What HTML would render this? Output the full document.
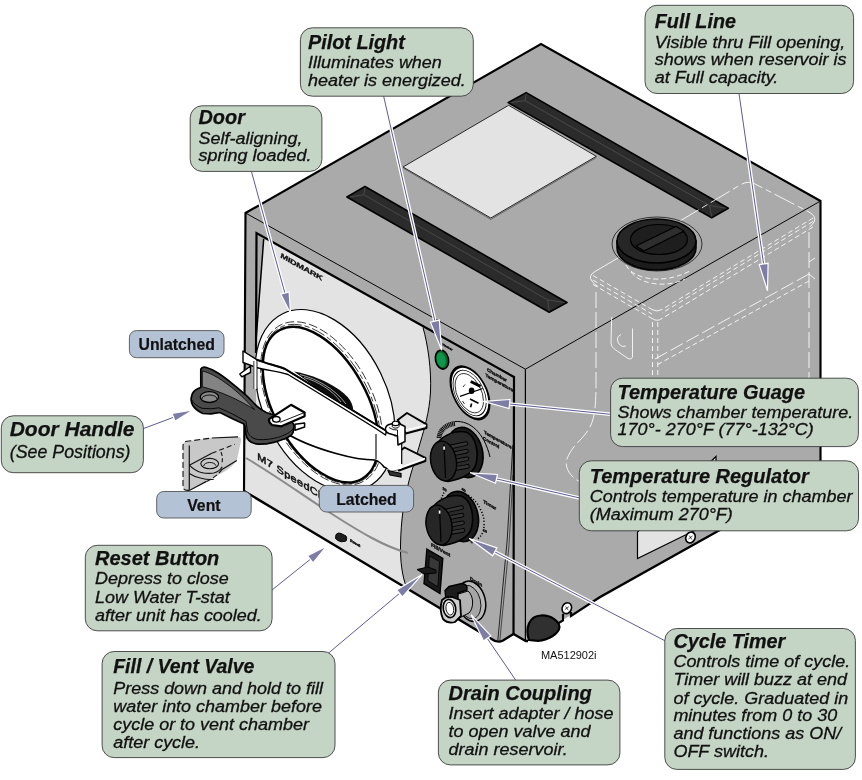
<!DOCTYPE html>
<html lang="en"><head><meta charset="utf-8"><title>M7 SpeedClave Controls</title>
<style>
html,body{margin:0;padding:0;background:#fff;}
body{width:862px;height:780px;overflow:hidden;}
svg{display:block;font-family:"Liberation Sans",Arial,Helvetica,sans-serif;will-change:transform;}
.t{font-weight:bold;font-style:italic;fill:#111;stroke:#111;stroke-width:0.25px;}
.b{font-style:italic;fill:#111;stroke:#111;stroke-width:0.3px;}
.bl{font-weight:bold;fill:#111;stroke:#111;stroke-width:0.2px;}
</style></head>
<body>
<svg width="862" height="780" viewBox="0 0 862 780">
<rect width="862" height="780" fill="#fff"/>
<polygon points="525.4,369.2 820.5,201.0 820.5,474.0 525.4,641.0" fill="#aaaaaa"/>
<polygon points="245.5,213.0 541.0,44.0 820.5,201.0 525.4,369.2" fill="#aaaaaa"/>
<path d="M245.5,213 L525.4,369.2 L525.7,641 L513.5,634 L503,640.5 Q497.8,643.5 491,638.7 L244,491 Z" fill="#aaaaaa"/>
<path d="M263.5,238.5 L423,327.5 C428,345 431.5,370 430.5,392 C429.5,412 424,430 420.7,441 C416,458 411,472 408,485 C404,500 401,520 400.5,545 C400.3,562 402,575 406.5,587.6 L245,491.6 L245,440 L256,436 L256,350 Z" fill="#e3e3e3"/>
<polygon points="256.5,233 263.7,238.9 255.6,346 255,350" fill="#aaaaaa"/>
<path d="M263.7,238.9 L255.6,346" stroke="#000" stroke-width="1.5" fill="none"/>
<path d="M423,327.5 C428,345 431.5,370 430.5,392 C429.5,412 424,430 420.7,441 C416,458 411,472 408,485 C404,500 401,520 400.5,545 C400.3,562 402,575 406.5,587.6" stroke="#000" stroke-width="1" fill="none"/>
<path d="M246,458 C280,478 305,497 332,514 C360,532 385,547 408,553" stroke="#8a8a8a" stroke-width="2" fill="none"/>
<path d="M256,353 L256.5,233 L514,377 L513.5,634" stroke="#000" stroke-width="2.2" fill="none" stroke-linejoin="miter"/>
<path d="M512.8,445 L507.2,540 L497.8,640.5" stroke="#000" stroke-width="0.8" fill="none"/>
<path d="M513,475 L509,545 L499.8,641" stroke="#000" stroke-width="0.6" fill="none"/>
<polygon points="403,167 508.6,105.3 596.3,156.3 490.8,218" fill="#e3e3e3" stroke="#000" stroke-width="0.8"/>
<path d="M403.5,168.3 L490.8,219.4 L596.3,157.6" stroke="#555" stroke-width="0.8" fill="none"/>
<polygon points="508.1,102.6 526.2,92.6 728.3,208.2 711.7,217.8" fill="#2b2b2b" stroke="#000" stroke-width="1.6" stroke-linejoin="round"/>
<path d="M511.1,102.6 L525.0,100.6 L709.6,205.6 L726.3,208.2 M709.6,205.6 L711.7,216.8 M525.0,100.6 L526.2,93.6" stroke="#555" stroke-width="0.7" fill="none"/>
<polygon points="346.9,197.0 365.0,186.5 567.0,302.5 549.2,312.2" fill="#2b2b2b" stroke="#000" stroke-width="1.6" stroke-linejoin="round"/>
<path d="M349.9,197.0 L363.8,194.7 L547.7,299.9 L565.0,302.5 M547.7,299.9 L549.2,311.2 M363.8,194.7 L365.0,187.5" stroke="#555" stroke-width="0.7" fill="none"/>
<path d="M245.5,213 L525.4,369.2 L820.5,201" stroke="#000" stroke-width="1" fill="none"/>
<path d="M525.4,369.2 L525.4,641" stroke="#000" stroke-width="1.2" fill="none"/>
<path d="M244,491 L245.5,213 L541,44 L820.5,201 L820.5,474" stroke="#000" stroke-width="2.15" fill="none" stroke-linejoin="miter"/>
<path d="M244,491 L491,638.7 Q497.8,643.5 503,640.5 L513.5,634 L525.7,641 L528,641" stroke="#000" stroke-width="2.4" fill="none" stroke-linejoin="round"/>
<path d="M557,624 L563,620.5 L563,614 M571,612 L571,616 L600,597 L718.5,530.8 L820.5,474" stroke="#000" stroke-width="2.15" fill="none" stroke-linejoin="miter"/>
<polygon points="637.5,532 716,456.5 716,520 637.5,558.5" fill="#e3e3e3" stroke="#000" stroke-width="1.2"/>
<path d="M529,640 C525,628 529,616 541,615.5 C551,615 559,621 559.5,627 C559,634 548,640 538,640.8 Z" fill="#303030" stroke="#000" stroke-width="2.2"/>
<ellipse cx="566.8" cy="608.2" rx="4.6" ry="5.6" transform="rotate(25 566.8 608.2)" fill="#fff" stroke="#000" stroke-width="1.6"/><path d="M564.8,609.7 L568.8,606.7 M565.5999999999999,606.4000000000001 L568.1999999999999,610.2" stroke="#000" stroke-width="0.7"/>
<ellipse cx="690.5" cy="537.5" rx="4.6" ry="5.6" transform="rotate(25 690.5 537.5)" fill="#fff" stroke="#000" stroke-width="1.6"/><path d="M688.5,539.0 L692.5,536.0 M689.3,535.7 L691.9,539.5" stroke="#000" stroke-width="0.7"/>
<path d="M618,258 L741,184.5 Q748,180.5 755,184 L809,212 Q817,216.5 814,222 Q812,226 806,229.5" stroke="#fff" fill="none" stroke-width="0.85" stroke-dasharray="22 4 6 4"/><path d="M618,258 L595,271.5 Q587.5,276 592,281 Q594,284.5 598,286.5" stroke="#fff" fill="none" stroke-width="0.85"/><path d="M813,218 L662,309.5" stroke="#fff" fill="none" stroke-width="0.85" stroke-dasharray="5 3"/><path d="M813,221.5 L662,313.0" stroke="#fff" fill="none" stroke-width="0.85" stroke-dasharray="5 3"/><path d="M813,227 L662,318.5" stroke="#fff" fill="none" stroke-width="0.85" stroke-dasharray="5 3"/><path d="M593,275.5 L652,309.5" stroke="#fff" fill="none" stroke-width="0.85" stroke-dasharray="5 3"/><path d="M593,280.0 L652,314.0" stroke="#fff" fill="none" stroke-width="0.85" stroke-dasharray="5 3"/><path d="M593,284.5 L652,318.5" stroke="#fff" fill="none" stroke-width="0.85" stroke-dasharray="5 3"/><path d="M652,309.5 Q657,312.5 662,309.5 M652,318.5 Q657,322 662,318.5" stroke="#fff" fill="none" stroke-width="0.85"/><path d="M596,292 L596,380 C596,398 595.5,408 593.6,417 C590,434 577,441 571.4,450.5 C568,456 565.5,460 566.5,466 C568,473 573,478 580,482" stroke="#fff" fill="none" stroke-width="0.85" stroke-dasharray="16 4"/><path d="M652.5,322 L652.5,420 M657.8,322 L657.8,420" stroke="#fff" fill="none" stroke-width="0.85" stroke-dasharray="5 3"/><path d="M809,232 L809,378" stroke="#fff" fill="none" stroke-width="0.85" stroke-dasharray="16 4"/><path d="M809,274 L655,359" stroke="#fff" fill="none" stroke-width="0.85" stroke-dasharray="14 4"/><path d="M809,281 L655,366" stroke="#fff" fill="none" stroke-width="0.85" stroke-dasharray="5 3"/><path d="M809,262 L815,258 M809,274 L815,279" stroke="#fff" fill="none" stroke-width="0.85"/><path d="M611.7,317 L611,343 Q611,347 615,349.5 L628,358.5 Q632.5,360 632.5,356 L632.5,328.5" stroke="#fff" fill="none" stroke-width="0.85"/><path d="M621,334.5 Q615,337.5 619,344 Q622,348 626,346" stroke="#fff" fill="none" stroke-width="0.85"/><path d="M626,265 C632,278 660,286 690,271" stroke="#fff" fill="none" stroke-width="0.85" stroke-dasharray="5 3"/><path d="M631,272 C640,285 668,288 685,279" stroke="#fff" fill="none" stroke-width="0.85" stroke-dasharray="5 3"/>
<ellipse cx="657" cy="244" rx="45" ry="27" fill="none" stroke="#000" stroke-width="0.7"/>
<path d="M617,241 L617,248 A39.5,22 0 0 0 696,248 L696,241 Z" fill="#1c1c1c" stroke="#000" stroke-width="1.6"/>
<ellipse cx="656.5" cy="241" rx="39.5" ry="22" fill="#262626" stroke="#000" stroke-width="1.6"/>
<ellipse cx="659" cy="239.5" rx="28.5" ry="15" fill="#1e1e1e" stroke="#000" stroke-width="1.2"/>
<path d="M636,246 L676,226.5 L684,231 L644,251 Z" fill="#2e2e2e" stroke="#000" stroke-width="1.2"/>
<ellipse cx="0" cy="0" rx="96.5" ry="61.9" transform="translate(325,400.4) rotate(64)" fill="#fff" stroke="#000" stroke-width="1.2"/>
<ellipse cx="0" cy="0" rx="88.5" ry="50.6" transform="translate(321.6,403.4) rotate(62)" fill="none" stroke="#000" stroke-width="0.7" stroke-dasharray="9 3"/>
<ellipse cx="0" cy="0" rx="86.8" ry="48.4" transform="translate(321.1,404) rotate(61.5)" fill="none" stroke="#000" stroke-width="0.7" stroke-dasharray="14 3 5 3"/>
<ellipse cx="0" cy="0" rx="85" ry="46.4" transform="translate(320.6,404.6) rotate(61)" fill="#fff" stroke="#000" stroke-width="2.4"/>
<path d="M268,364 C276,366 281,367.5 285,369 L320,390.3 L375,424 L386.5,431 L401.7,441 L401.7,468.5 L397,469.5 Q390,470 384,467 Q381,462 375,460 C362,460 350,457.5 337,453.8 C320,449 300,442 286,433 L276,410 Z" fill="#fff"/>
<path d="M286,433 C300,442 320,449 337,453.8 C350,457.5 362,460 375,460 Q381,462 384,467 Q390,470 397,469.5 L421,458" stroke="#000" stroke-width="1.7" fill="none"/>
<path d="M376,434 L376,459" stroke="#000" stroke-width="1.1"/>
<path d="M243,351 L256.7,359.6 C266,363.5 276,365.5 285,369 L320,390.3 L375,424 L386.5,431 L385.5,435 L375,428 L320,394 L288,374.5 C278,371 266,370.5 256.7,367.5 L243,362.5 Z" fill="#fff" stroke="#000" stroke-width="1.4" stroke-linejoin="round"/>
<path d="M256.7,359.6 C266,363.5 276,365.5 285,369 L320,390.3 L375,424 L386.5,431" stroke="#000" stroke-width="2" fill="none"/>
<rect x="253.8" y="362" width="3.2" height="27" fill="#fff"/><path d="M253.8,361 L253.8,389" stroke="#555" stroke-width="1.2"/><path d="M257,360 L257,390" stroke="#000" stroke-width="0.9"/>
<path d="M294,371.5 C308,374 318,378 327,382.5 C336,387 343,392 347.6,397 C351,401 353,405 353.2,410 L345,405.5 L320,390.3 Z" fill="#0c0c0c"/>
<path d="M300,374.6 C316,378.5 334,388 346,404 M304,377.5 C318,381.5 332,390 341,402" stroke="#fff" stroke-width="0.6" fill="none"/>
<path d="M250.5,366 L239.8,374 L241.8,376.8 L250.5,372.5 Z" fill="#fff" stroke="#000" stroke-width="1.4" stroke-linejoin="round"/>
<path d="M397.7,420 L407,413 L426.5,424.4 L426.5,428 L405.8,433.5 Z" fill="#e3e3e3" stroke="#000" stroke-width="1.9" stroke-linejoin="round"/>
<path d="M404,430.5 L426,425.2" stroke="#fff" stroke-width="1.6"/>
<path d="M398.8,452 L404.6,447.5 L425.4,457.9 L425.4,461 L398.8,470.5 Z" fill="#e3e3e3" stroke="#000" stroke-width="1.9" stroke-linejoin="round"/>
<path d="M400,467.5 L425,458.6" stroke="#fff" stroke-width="1.6"/>
<path d="M377,434 L377,459 Q382,464 389.6,470 Q396,471 401.7,468.5 L401.7,441 Z" fill="#fff" stroke="none"/>
<path d="M401.7,441 L401.7,464" stroke="#000" stroke-width="1.2"/>
<path d="M385.5,430 Q385,426 389,424.5 L397,422.5 L405,426.5 L405,441.5 L398,445 L397.5,436 L389,433.5 Q386,432.5 385.5,430 Z" fill="#fff" stroke="#000" stroke-width="1.5" stroke-linejoin="round"/>
<path d="M389,427.5 Q393,430.5 397.5,430 L397.5,436" stroke="#000" stroke-width="0.9" fill="none"/>
<path d="M392.3,423.5 L392.3,426.5 A3.4,2 0 0 0 399,426.5 L399,423.5" fill="#fff" stroke="#000" stroke-width="1"/>
<ellipse cx="395.6" cy="423.4" rx="3.4" ry="2.2" fill="#fff" stroke="#000" stroke-width="1.1"/>
<path d="M388,470.5 L401,473.5 L401,477 L390,475 Z" fill="#333" stroke="#000" stroke-width="1.2"/>
<path d="M183,446 Q183,442 187,441.3 L211.8,438 L238,436.8 Q241.5,437 241,441 L236.8,460.5 C233,466 226,471 220,474 L206.5,481.4 L189.8,490.2 Q183.5,491 183,486 Z" fill="#c8c8c8" stroke="none"/>
<path d="M183,486 L183,446 Q183,442 187,441.3 L211.8,438" fill="none" stroke="#111" stroke-width="1.1" stroke-dasharray="6 3"/>
<path d="M211.8,438 L238,436.8" fill="none" stroke="#111" stroke-width="1.2"/>
<path d="M236.8,460.5 L222,469.4 M206.5,481.4 L189.8,490.2 Q185,491 183.6,488.7" fill="none" stroke="#111" stroke-width="1.2"/>
<path d="M222,469.4 C219,474 213,478.5 206.5,481.4" fill="none" stroke="#111" stroke-width="1.1" stroke-dasharray="5 2.5"/>
<path d="M189.3,445.4 L189.3,489.7 M189.3,465.2 L211.8,453.2" stroke="#111" stroke-width="1.2" fill="none"/>
<path d="M211.8,453.2 L234.7,444.3" stroke="#111" stroke-width="1.1" fill="none" stroke-dasharray="5 3"/>
<path d="M221,452 Q223.5,458 221.5,465" stroke="#111" stroke-width="1.1" fill="none" stroke-dasharray="4 2.5"/>
<ellipse cx="209.7" cy="463.6" rx="8.9" ry="5.2" fill="#c8c8c8" stroke="#111" stroke-width="1.1"/>
<path d="M203.8,466 A6,3.3 0 0 1 215.8,465.6" fill="none" stroke="#111" stroke-width="1"/>
<path d="M189.3,465.2 C193,469 197,471.5 201.3,472.5 C206,473.6 210,473.8 213.8,473 C217.5,472 220.5,470 222.2,466.8" fill="none" stroke="#111" stroke-width="1.2"/>
<path d="M189.3,473.5 C193,476 197,477.5 201.3,478.2 C206,479.6 210,479.8 213.8,479.3" fill="none" stroke="#111" stroke-width="1.1"/>
<path d="M200.8,369.2 Q202,366.5 205.6,367.3 C210,368.5 214,370.5 218,373 C223.5,376.5 228.5,380.5 233.5,384.6 C238,388.3 242.5,392 247,396.2 C250.5,399.5 253.5,403 256.5,405.8 C259.5,408.5 262.5,410.5 266.2,412.5 L286,419 C291.5,421 294.3,423.5 294,426.5 L293,432.7 C291.5,435.5 289,437.2 285.4,438.5 C281.5,440 278,441.3 273.8,442.3 C269,443.5 263.5,444.3 258.5,444.2 C254.5,444 251,442.8 248.8,440.4 C247.2,438.6 246.4,436.8 246,434.6 L245,427 L244,424 L233.5,419.2 L220,412.5 L211,413.8 L202.7,413.5 C198.5,411.5 195,408.8 193,405.8 C191.5,403.3 190.8,400.8 191.2,398 C191.7,394.5 193,392 195,390.4 C196.8,389 198.6,388.2 200.8,387.5 Z" fill="#4a4a4a" stroke="#000" stroke-width="1.7" stroke-linejoin="round"/>
<path d="M202.3,371 C212,373 224,381 236,391 C243,397 249,403.5 254.6,409.6 C248,405.5 240,401 230,396.5 C220,392 210,388.8 202.3,386.8 Z" fill="#838383" stroke="#000" stroke-width="0.8"/>
<path d="M191.5,399.5 C193.5,403.5 197,406.5 202,408.3 L211,408.8 L219,407.8 L232.5,414 L246,421.5 L247.2,430 C248.2,435.5 252,438.7 258.5,439.6 C265,440 272,439 277.7,437.5 C285,435.3 290.5,432.5 293.5,428.3" stroke="#000" stroke-width="0.9" fill="none"/>
<ellipse cx="209.4" cy="397.1" rx="9.2" ry="5.4" fill="#8a8a8a" stroke="#000" stroke-width="1.3"/>
<path d="M201.8,399 A7.6,4 0 0 1 217,399" fill="none" stroke="#000" stroke-width="0.9"/>
<path d="M295,424.3 L304.6,423 L304.6,427 L295,430.3 Z" fill="#fff" stroke="#000" stroke-width="1.5" stroke-linejoin="round"/>
<path d="M269,419.2 L291,404.8 L304.6,412.5 L304.6,416.3 L281.5,426.3 L272,425 Q268.5,422.5 269,419.2 Z" fill="#fff" stroke="#000" stroke-width="2.2" stroke-linejoin="round"/>
<path d="M280,422.3 L304.6,412.5" stroke="#000" stroke-width="0.9" fill="none"/>
<ellipse cx="276.3" cy="419.3" rx="3.8" ry="2.8" fill="#fff" stroke="#000" stroke-width="1.4"/>
<ellipse cx="442" cy="359.6" rx="6.5" ry="9.6" transform="rotate(-12 442 359.6)" fill="#0a6a2c" stroke="#000" stroke-width="1.6"/>
<ellipse cx="441.2" cy="359.8" rx="4.4" ry="7.3" transform="rotate(-12 441.2 359.8)" fill="#10964a"/>
<ellipse cx="0" cy="0" rx="19.4" ry="23.9" transform="matrix(1,0.558,0,1,470,392.8)" fill="#fff" stroke="#000" stroke-width="2.2"/>
<ellipse cx="0" cy="0" rx="16.6" ry="20.8" transform="matrix(1,0.558,0,1,469.6,393)" fill="none" stroke="#000" stroke-width="0.8"/>
<ellipse cx="0" cy="0" rx="14.2" ry="18" transform="matrix(1,0.558,0,1,469.3,393.2)" fill="none" stroke="#000" stroke-width="0.7"/>
<path d="M460,396.3 L482.7,388.5" stroke="#000" stroke-width="1.3"/>
<path d="M470.7,381.5 L480.6,386.4" stroke="#000" stroke-width="3"/>
<path d="M470,399 L478.5,403.3" stroke="#000" stroke-width="1.6"/><path d="M471.6,403.5 L470.6,407.2" stroke="#000" stroke-width="1.6"/>
<ellipse cx="471.6" cy="390.8" rx="2.8" ry="3.3" fill="#000"/><path d="M463,387 L465,384.5 M462.5,401 L464.5,404" stroke="#000" stroke-width="0.8"/>
<path d="M439,438 C440,430 446,424.5 455,423.5" stroke="#151515" stroke-width="5" fill="none" stroke-dasharray="1.2 0.5"/>
<path d="M455,421.5 C470,420.5 484,432 490,457" stroke="#000" stroke-width="1" fill="none"/>
<g transform="translate(0,0)"><ellipse cx="465" cy="452.5" rx="17.5" ry="25.5" transform="rotate(-14 465 452.5)" fill="#1b1b1b" stroke="#000" stroke-width="1.6"/><path d="M437,443 C445,434 456,430 466,432 C476,436 479,452 476,464 C473,474 462,479 448,481.5 C438,480 432,470 431,460 C430.5,452 433,446 437,443 Z" fill="#2a2a2a" stroke="#000" stroke-width="1.6"/><path d="M451.0,446.8 L466.0,443.6" stroke="#000" stroke-width="4.6" stroke-linecap="round"/><path d="M451.0,446.8 L466.0,443.6" stroke="#343434" stroke-width="2.8" stroke-linecap="round"/><path d="M452.1,454.1 L466.5,451.2" stroke="#000" stroke-width="4.6" stroke-linecap="round"/><path d="M452.1,454.1 L466.5,451.2" stroke="#343434" stroke-width="2.8" stroke-linecap="round"/><path d="M453.2,461.4 L467.0,458.8" stroke="#000" stroke-width="4.6" stroke-linecap="round"/><path d="M453.2,461.4 L467.0,458.8" stroke="#343434" stroke-width="2.8" stroke-linecap="round"/><path d="M454.3,468.7 L467.5,466.4" stroke="#000" stroke-width="4.6" stroke-linecap="round"/><path d="M454.3,468.7 L467.5,466.4" stroke="#343434" stroke-width="2.8" stroke-linecap="round"/><ellipse cx="443.5" cy="461" rx="12.8" ry="20" transform="rotate(-10 443.5 461)" fill="#262626" stroke="#000" stroke-width="1.4"/><path d="M444,444 L445.5,478" stroke="#000" stroke-width="1.2"/><rect x="443.3" y="446.5" width="1.6" height="3.2" fill="#fff"/></g>
<path d="M440,501 L444.5,491.5" stroke="#000" stroke-width="1.5" fill="none" stroke-dasharray="1.2 1.5"/>
<path d="M468.2,495 C474,499 478,504 479.7,508 C482.5,513 484,517 484,521.8 C484.3,526 484,529 482.8,532 C481.5,535.5 479.5,538 476.6,539.5" stroke="#000" stroke-width="1.5" fill="none" stroke-dasharray="1.2 1.9"/>
<g transform="translate(-4.5,64)"><ellipse cx="465" cy="452.5" rx="17.5" ry="25.5" transform="rotate(-14 465 452.5)" fill="#1b1b1b" stroke="#000" stroke-width="1.6"/><path d="M437,443 C445,434 456,430 466,432 C476,436 479,452 476,464 C473,474 462,479 448,481.5 C438,480 432,470 431,460 C430.5,452 433,446 437,443 Z" fill="#2a2a2a" stroke="#000" stroke-width="1.6"/><path d="M451.0,446.8 L466.0,443.6" stroke="#000" stroke-width="4.6" stroke-linecap="round"/><path d="M451.0,446.8 L466.0,443.6" stroke="#343434" stroke-width="2.8" stroke-linecap="round"/><path d="M452.1,454.1 L466.5,451.2" stroke="#000" stroke-width="4.6" stroke-linecap="round"/><path d="M452.1,454.1 L466.5,451.2" stroke="#343434" stroke-width="2.8" stroke-linecap="round"/><path d="M453.2,461.4 L467.0,458.8" stroke="#000" stroke-width="4.6" stroke-linecap="round"/><path d="M453.2,461.4 L467.0,458.8" stroke="#343434" stroke-width="2.8" stroke-linecap="round"/><path d="M454.3,468.7 L467.5,466.4" stroke="#000" stroke-width="4.6" stroke-linecap="round"/><path d="M454.3,468.7 L467.5,466.4" stroke="#343434" stroke-width="2.8" stroke-linecap="round"/><ellipse cx="443.5" cy="461" rx="12.8" ry="20" transform="rotate(-10 443.5 461)" fill="#262626" stroke="#000" stroke-width="1.4"/><path d="M444,444 L445.5,478" stroke="#000" stroke-width="1.2"/><rect x="443.3" y="446.5" width="1.6" height="3.2" fill="#fff"/></g>
<polygon points="426.9,549 442.8,558.3 440,593.5 424,583.7" fill="#1a1a1a" stroke="#000" stroke-width="1.4"/>
<polygon points="429.5,556 439.5,561.5 437.8,587 427.8,580.5" fill="#383838" stroke="#000" stroke-width="0.8"/>
<path d="M417,569.5 L428,567 L436,570 L436,573 L424,574 Z" fill="#1a1a1a" stroke="#000" stroke-width="1"/>
<ellipse cx="471.3" cy="601.3" rx="14" ry="20.5" transform="rotate(-14 471.3 601.3)" fill="#b8b8b8" stroke="#000" stroke-width="1.5"/>
<ellipse cx="469.5" cy="602" rx="11" ry="17" transform="rotate(-14 469.5 602)" fill="#a6a6a6" stroke="#000" stroke-width="0.8"/>
<path d="M452,596 L468,591 C474,596 474,608 469,613 L455,620 Z" fill="#b4b4b4" stroke="#000" stroke-width="1"/>
<path d="M445,590.5 L449,586.5 L462,583.5 Q468,584 467,590 L458,593 L458,603 L446,600 Z" fill="#1c1c1c" stroke="#000" stroke-width="1.4" stroke-linejoin="round"/>
<path d="M442,600 Q446,596 452,597 L460,600 L461,616 L455,622 Q448,624 443,619 Q439,610 442,600 Z" fill="#cfcfcf" stroke="#000" stroke-width="1.8" stroke-linejoin="round"/>
<ellipse cx="449.5" cy="608.5" rx="6.2" ry="9.2" transform="rotate(-10 449.5 608.5)" fill="#e8e8e8" stroke="#000" stroke-width="1.6"/>
<ellipse cx="449.8" cy="608.7" rx="3.8" ry="6.4" transform="rotate(-10 449.8 608.7)" fill="#fff" stroke="#000" stroke-width="0.8"/>
<path d="M336,534.5 Q338,532 341,533.5 L346,536 Q347.5,538.5 346,541 L341.5,541.8 Q337.5,541 335.5,538.5 Z" fill="#1e1e1e" stroke="#000" stroke-width="1"/>
<text transform="matrix(1.22,0.68076,0,1,280.4,257.6)" font-size="7.4" font-weight="bold" fill="#111" font-style="italic" letter-spacing="-0.2" stroke="#111" stroke-width="0.3">MIDMARK</text>
<text transform="matrix(1.12,0.6910400000000001,0,1,257.2,459.3)" font-size="9.8" font-weight="normal" fill="#111" letter-spacing="0.3" stroke="#111" stroke-width="0.5">M7 SpeedClave</text>
<text transform="matrix(1.0,0.558,0,1,442.5,345.3)" font-size="3.2" font-weight="bold" fill="#111"  stroke="#111" stroke-width="0.4">Heater</text>
<text transform="matrix(1.0,0.558,0,1,487,371)" font-size="4.6" font-weight="bold" fill="#111"  stroke="#111" stroke-width="0.4">Chamber</text>
<text transform="matrix(1.0,0.558,0,1,485.5,376.5)" font-size="4.6" font-weight="bold" fill="#111"  stroke="#111" stroke-width="0.4">Temperature</text>
<text transform="matrix(1.0,0.558,0,1,484,433.5)" font-size="4.6" font-weight="bold" fill="#111"  stroke="#111" stroke-width="0.4">Temperature</text>
<text transform="matrix(1.0,0.558,0,1,483,439.5)" font-size="4.6" font-weight="bold" fill="#111"  stroke="#111" stroke-width="0.4">Control</text>
<text transform="matrix(1.0,0.558,0,1,483.2,503)" font-size="4.8" font-weight="bold" fill="#111"  stroke="#111" stroke-width="0.4">Timer</text>
<text transform="matrix(1.0,0.558,0,1,431,546.3)" font-size="5" font-weight="bold" fill="#111"  stroke="#111" stroke-width="0.4">Fill/Vent</text>
<text transform="matrix(1.0,0.558,0,1,470,580)" font-size="4.8" font-weight="bold" fill="#111"  stroke="#111" stroke-width="0.4">Drain</text>
<text transform="matrix(1.0,0.558,0,1,350,541.5)" font-size="3.8" font-weight="bold" fill="#111"  stroke="#111" stroke-width="0.4">Reset</text>
<text transform="matrix(1.0,0.558,0,1,442.5,489.5)" font-size="3.8" font-weight="bold" fill="#111"  stroke="#111" stroke-width="0.4">30</text>
<text transform="matrix(1.0,0.558,0,1,461.5,490)" font-size="3.8" font-weight="bold" fill="#111"  stroke="#111" stroke-width="0.4">40</text>
<text transform="matrix(1.0,0.558,0,1,470.5,542.5)" font-size="3.8" font-weight="bold" fill="#111"  stroke="#111" stroke-width="0.4">0</text>
<text transform="matrix(1.0,0.558,0,1,483,531)" font-size="3.4" font-weight="bold" fill="#111"  stroke="#111" stroke-width="0.4">10</text>
<line x1="251.4" y1="171.4" x2="284.9" y2="293.1" stroke="#fff" stroke-width="3.6"/><line x1="251.4" y1="171.4" x2="284.9" y2="293.1" stroke="#5c5c94" stroke-width="1"/><polygon points="290.6,313.6 280.8,294.2 289.1,291.9" fill="#7d7da6" stroke="#fff" stroke-width="1.2" stroke-linejoin="miter"/>
<line x1="383.6" y1="96.0" x2="434.9" y2="321.1" stroke="#fff" stroke-width="3.6"/><line x1="383.6" y1="96.0" x2="434.9" y2="321.1" stroke="#5c5c94" stroke-width="1"/><polygon points="441.6,350.3 430.5,322.1 439.3,320.1" fill="#7d7da6" stroke="#fff" stroke-width="1.2" stroke-linejoin="miter"/>
<line x1="739.0" y1="93.5" x2="763.6" y2="264.0" stroke="#fff" stroke-width="3.6"/><line x1="739.0" y1="93.5" x2="763.6" y2="264.0" stroke="#5c5c94" stroke-width="1"/><polygon points="767.5,290.7 759.2,264.6 768.1,263.3" fill="#7d7da6" stroke="#fff" stroke-width="1.2" stroke-linejoin="miter"/>
<line x1="610.6" y1="414.3" x2="509.6" y2="404.0" stroke="#fff" stroke-width="3.6"/><line x1="610.6" y1="414.3" x2="509.6" y2="404.0" stroke="#5c5c94" stroke-width="1"/><polygon points="483.2,401.3 510.0,399.5 509.1,408.5" fill="#7d7da6" stroke="#fff" stroke-width="1.2" stroke-linejoin="miter"/>
<line x1="579.3" y1="497.9" x2="496.5" y2="478.9" stroke="#fff" stroke-width="3.6"/><line x1="579.3" y1="497.9" x2="496.5" y2="478.9" stroke="#5c5c94" stroke-width="1"/><polygon points="470.2,472.8 497.5,474.5 495.5,483.2" fill="#7d7da6" stroke="#fff" stroke-width="1.2" stroke-linejoin="miter"/>
<line x1="665.0" y1="640.8" x2="494.8" y2="551.8" stroke="#fff" stroke-width="3.6"/><line x1="665.0" y1="640.8" x2="494.8" y2="551.8" stroke="#5c5c94" stroke-width="1"/><polygon points="469.3,538.5 496.9,547.9 492.7,555.8" fill="#7d7da6" stroke="#fff" stroke-width="1.2" stroke-linejoin="miter"/>
<line x1="515.6" y1="680.0" x2="487.2" y2="638.3" stroke="#fff" stroke-width="3.6"/><line x1="515.6" y1="680.0" x2="487.2" y2="638.3" stroke="#5c5c94" stroke-width="1"/><polygon points="471.1,614.7 490.9,635.8 483.5,640.9" fill="#7d7da6" stroke="#fff" stroke-width="1.2" stroke-linejoin="miter"/>
<line x1="326.8" y1="654.5" x2="399.5" y2="593.4" stroke="#fff" stroke-width="3.6"/><line x1="326.8" y1="654.5" x2="399.5" y2="593.4" stroke="#5c5c94" stroke-width="1"/><polygon points="422.2,574.4 402.4,596.9 396.6,590.0" fill="#7d7da6" stroke="#fff" stroke-width="1.2" stroke-linejoin="miter"/>
<line x1="272.0" y1="590.0" x2="310.3" y2="559.3" stroke="#fff" stroke-width="3.6"/><line x1="272.0" y1="590.0" x2="310.3" y2="559.3" stroke="#5c5c94" stroke-width="1"/><polygon points="326.9,546.0 313.1,562.8 307.5,555.8" fill="#7d7da6" stroke="#fff" stroke-width="1.2" stroke-linejoin="miter"/>
<line x1="143.4" y1="428.6" x2="173.5" y2="417.3" stroke="#fff" stroke-width="3.6"/><line x1="143.4" y1="428.6" x2="173.5" y2="417.3" stroke="#5c5c94" stroke-width="1"/><polygon points="193.0,410.0 175.0,421.3 172.0,413.3" fill="#7d7da6" stroke="#fff" stroke-width="1.2" stroke-linejoin="miter"/>
<rect x="300.4" y="27.8" width="172.9" height="68.4" rx="12" ry="12" fill="#c5d5c5" stroke="#3c3c3c" stroke-width="0.9"/><text transform="translate(308,49.3)" class="t" font-size="19.6" textLength="96.8" lengthAdjust="spacingAndGlyphs">Pilot Light</text><text transform="translate(308,67.9) scale(1.058,1)" class="b" font-size="17">Illuminates when</text><text transform="translate(308,85.8) scale(1.058,1)" class="b" font-size="17">heater is energized.</text>
<rect x="190.2" y="105.8" width="131.7" height="65.6" rx="12" ry="12" fill="#c5d5c5" stroke="#3c3c3c" stroke-width="0.9"/><text transform="translate(198.5,124.3)" class="t" font-size="19.6" textLength="46.4" lengthAdjust="spacingAndGlyphs">Door</text><text transform="translate(198.5,143.6) scale(1.058,1)" class="b" font-size="17">Self-aligning,</text><text transform="translate(198.5,161.4) scale(1.058,1)" class="b" font-size="17">spring loaded.</text>
<rect x="645" y="5.3" width="208.6" height="88.2" rx="12" ry="12" fill="#c5d5c5" stroke="#3c3c3c" stroke-width="0.9"/><text transform="translate(654.8,28.2)" class="t" font-size="19.6" textLength="81.1" lengthAdjust="spacingAndGlyphs">Full Line</text><text transform="translate(654.8,47.9) scale(1.058,1)" class="b" font-size="17">Visible thru Fill opening,</text><text transform="translate(654.8,65.3) scale(1.058,1)" class="b" font-size="17">shows when reservoir is</text><text transform="translate(654.8,83) scale(1.058,1)" class="b" font-size="17">at Full capacity.</text>
<rect x="610.6" y="378.2" width="247.8" height="68.4" rx="12" ry="12" fill="#c5d5c5" stroke="#3c3c3c" stroke-width="0.9"/><text transform="translate(617.6,398.9)" class="t" font-size="19.6" textLength="187.5" lengthAdjust="spacingAndGlyphs">Temperature Guage</text><text transform="translate(617.6,417.8) scale(1.058,1)" class="b" font-size="17">Shows chamber temperature.</text><text transform="translate(617.6,435.4) scale(1.058,1)" class="b" font-size="17">170°- 270°F (77°-132°C)</text>
<rect x="579.3" y="460.8" width="279.2" height="70.0" rx="12" ry="12" fill="#c5d5c5" stroke="#3c3c3c" stroke-width="0.9"/><text transform="translate(589.8,482.8)" class="t" font-size="19.6" textLength="219" lengthAdjust="spacingAndGlyphs">Temperature Regulator</text><text transform="translate(589.8,502.1) scale(1.058,1)" class="b" font-size="17">Controls temperature in chamber</text><text transform="translate(589.8,520.3) scale(1.058,1)" class="b" font-size="17">(Maximum 270°F)</text>
<rect x="664.8" y="628.5" width="190.6" height="140.9" rx="12" ry="12" fill="#c5d5c5" stroke="#3c3c3c" stroke-width="0.9"/><text transform="translate(673.4,647.5)" class="t" font-size="19.6" textLength="111.9" lengthAdjust="spacingAndGlyphs">Cycle Timer</text><text transform="translate(673.4,667.1) scale(1.058,1)" class="b" font-size="17">Controls time of cycle.</text><text transform="translate(673.4,685.1) scale(1.058,1)" class="b" font-size="17">Timer will buzz at end</text><text transform="translate(673.4,703.5) scale(1.058,1)" class="b" font-size="17">of cycle. Graduated in</text><text transform="translate(673.4,721.2) scale(1.058,1)" class="b" font-size="17">minutes from 0 to 30</text><text transform="translate(673.4,739.2) scale(1.058,1)" class="b" font-size="17">and functions as ON/</text><text transform="translate(673.4,757.2) scale(1.058,1)" class="b" font-size="17">OFF switch.</text>
<rect x="438.4" y="680.1" width="181.5" height="84.8" rx="12" ry="12" fill="#c5d5c5" stroke="#3c3c3c" stroke-width="0.9"/><text transform="translate(448.6,699.8)" class="t" font-size="19.6" textLength="143.2" lengthAdjust="spacingAndGlyphs">Drain Coupling</text><text transform="translate(448.6,719.1) scale(1.058,1)" class="b" font-size="17">Insert adapter / hose</text><text transform="translate(448.6,737.4) scale(1.058,1)" class="b" font-size="17">to open valve and</text><text transform="translate(448.6,755.1) scale(1.058,1)" class="b" font-size="17">drain reservoir.</text>
<rect x="102.1" y="651.5" width="232.9" height="106.1" rx="12" ry="12" fill="#c5d5c5" stroke="#3c3c3c" stroke-width="0.9"/><text transform="translate(113.2,672.6)" class="t" font-size="19.6" textLength="141.2" lengthAdjust="spacingAndGlyphs">Fill / Vent Valve</text><text transform="translate(113.2,693.7) scale(1.058,1)" class="b" font-size="17">Press down and hold to fill</text><text transform="translate(113.2,711.8) scale(1.058,1)" class="b" font-size="17">water into chamber before</text><text transform="translate(113.2,729.6) scale(1.058,1)" class="b" font-size="17">cycle or to vent chamber</text><text transform="translate(113.2,747.7) scale(1.058,1)" class="b" font-size="17">after cycle.</text>
<rect x="85.3" y="545.3" width="186.8" height="85.5" rx="12" ry="12" fill="#c5d5c5" stroke="#3c3c3c" stroke-width="0.9"/><text transform="translate(95,565.2)" class="t" font-size="19.6" textLength="124.3" lengthAdjust="spacingAndGlyphs">Reset Button</text><text transform="translate(95,584.4) scale(1.058,1)" class="b" font-size="17">Depress to close</text><text transform="translate(95,602.7) scale(1.058,1)" class="b" font-size="17">Low Water T-stat</text><text transform="translate(95,620.6) scale(1.058,1)" class="b" font-size="17">after unit has cooled.</text>
<rect x="1.3" y="415.8" width="142.1" height="56.9" rx="12" ry="12" fill="#c5d5c5" stroke="#3c3c3c" stroke-width="0.9"/><text transform="translate(9.7,436.2)" class="t" font-size="21" textLength="124.8" lengthAdjust="spacingAndGlyphs">Door Handle</text><text transform="translate(9.7,458.2) scale(0.99,1)" class="b" font-size="18">(See Positions)</text>
<rect x="129.4" y="330.6" width="94.6" height="27.1" rx="7" ry="7" fill="#b4c2d6" stroke="#555" stroke-width="0.9"/><text x="176.7" y="349.7" text-anchor="middle" class="bl" font-size="15.8">Unlatched</text>
<rect x="156.7" y="491.5" width="94.5" height="26.5" rx="7" ry="7" fill="#b4c2d6" stroke="#555" stroke-width="0.9"/><text x="203.9" y="510.6" text-anchor="middle" class="bl" font-size="15.8">Vent</text>
<rect x="319.3" y="485.4" width="94.3" height="26.6" rx="7" ry="7" fill="#b4c2d6" stroke="#555" stroke-width="0.9"/><text x="366.5" y="505" text-anchor="middle" class="bl" font-size="15.8">Latched</text>
<text x="540.9" y="658.6" font-size="11" fill="#111">MA512902i</text>
</svg>
</body></html>
